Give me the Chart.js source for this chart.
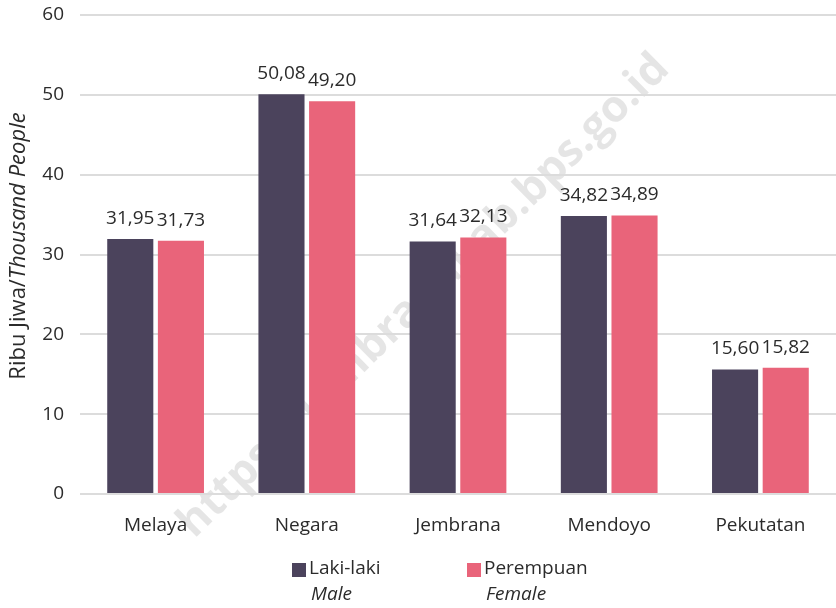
<!DOCTYPE html>
<html>
<head>
<meta charset="utf-8">
<script src="https://cdn.jsdelivr.net/npm/chart.js@4"></script>
<style>
  html, body { margin: 0; padding: 0; background: #fff; }
  #wrap { width: 836px; height: 608px; }
</style>
</head>
<body>
<div id="wrap"><canvas id="chart"></canvas></div>
<script>
const categories = ["Melaya", "Negara", "Jembrana", "Mendoyo", "Pekutatan"];
const maleValues = [31.95, 50.08, 31.64, 34.82, 15.60];
const femaleValues = [31.73, 49.20, 32.13, 34.89, 15.82];
const seriesNames = [["Laki-laki", "Male"], ["Perempuan", "Female"]];
const seriesColors = ["#4b435c", "#e9647a"];
const yTicks = [0, 10, 20, 30, 40, 50, 60];

const FONT = "'Open Sans', 'Noto Sans', sans-serif";
const TEXT = "#2b2b2b";
const FS = 19;

// watermark behind everything
const watermark = {
    id: "watermark",
    beforeDraw(chart) {
        const ctx = chart.ctx;
        ctx.save();
        ctx.translate(424, 296);
        ctx.rotate(-44.5 * Math.PI / 180);
        ctx.font = "bold 44px " + FONT;
        ctx.fillStyle = "rgba(0,0,0,0.10)";
        ctx.textAlign = "center";
        ctx.textBaseline = "middle";
        ctx.fillText("https://jembranakab.bps.go.id", 0, 0);
        ctx.restore();
    }
};

// value labels, axis title, two-line legend
const extras = {
    id: "extras",
    afterDraw(chart) {
        const ctx = chart.ctx;
        ctx.save();
        ctx.fillStyle = TEXT;
        ctx.font = FS + "px " + FONT;
        ctx.textAlign = "center";
        ctx.textBaseline = "bottom";
        chart.data.datasets.forEach((ds, i) => {
            chart.getDatasetMeta(i).data.forEach((bar, j) => {
                ctx.fillText(ds.data[j].toFixed(2).replace(".", ","), bar.x, bar.y - 11);
            });
        });

        // y axis title
        const TS = 22;
        ctx.translate(19, 246);
        ctx.rotate(-Math.PI / 2);
        ctx.textBaseline = "middle";
        ctx.textAlign = "left";
        ctx.font = TS + "px " + FONT;
        const a = "Ribu Jiwa/";
        const w1 = ctx.measureText(a).width;
        ctx.font = "italic " + TS + "px " + FONT;
        const w2 = ctx.measureText("Thousand People").width;
        const start = -(w1 + w2) / 2;
        ctx.font = TS + "px " + FONT;
        ctx.fillText(a, start, 0);
        ctx.font = "italic " + TS + "px " + FONT;
        ctx.fillText("Thousand People", start + w1, 0);
        ctx.restore();

        // legend
        ctx.save();
        const lx = [292, 467];
        seriesNames.forEach((names, i) => {
            ctx.fillStyle = seriesColors[i];
            ctx.fillRect(lx[i], 563, 14, 14);
            ctx.fillStyle = TEXT;
            ctx.textAlign = "left";
            ctx.textBaseline = "middle";
            ctx.font = FS + "px " + FONT;
            ctx.fillText(names[0], lx[i] + 17, 569);
            ctx.font = "italic " + FS + "px " + FONT;
            ctx.fillText(names[1], lx[i] + 19, 595);
        });
        ctx.restore();
    }
};

new Chart(document.getElementById("chart"), {
    type: "bar",
    data: {
        labels: categories,
        datasets: [
            { label: seriesNames[0][0], data: maleValues, backgroundColor: seriesColors[0] },
            { label: seriesNames[1][0], data: femaleValues, backgroundColor: seriesColors[1] }
        ]
    },
    options: {
        responsive: true,
        maintainAspectRatio: false,
        animation: false,
        categoryPercentage: 0.67,
        barPercentage: 0.91,
        layout: { padding: { top: 15, right: 0, bottom: 0, left: 0 } },
        plugins: {
            legend: { display: false },
            tooltip: { enabled: false }
        },
        scales: {
            x: {
                grid: { display: false },
                border: { display: false },
                ticks: { color: TEXT, font: { family: FONT, size: FS }, padding: 12 },
                afterFit(scale) { scale.height = 114; }
            },
            y: {
                min: 0,
                max: 60,
                afterBuildTicks(scale) { scale.ticks = yTicks.map(v => ({ value: v })); },
                grid: { color: "#dcdcdc", lineWidth: 2, drawTicks: false },
                border: { display: false },
                ticks: { color: TEXT, font: { family: FONT, size: FS }, padding: 16 },
                afterFit(scale) {
                    scale.width = 80;
                    scale.paddingTop = 0;
                    scale.paddingBottom = 0;
                }
            }
        }
    },
    plugins: [watermark, extras]
});
</script>
</body>
</html>
